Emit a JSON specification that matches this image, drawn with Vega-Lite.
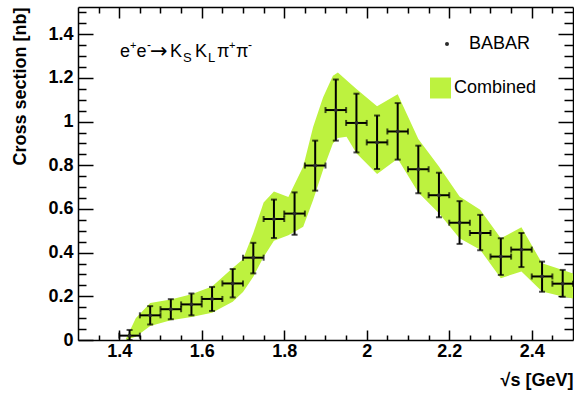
{
  "$schema": "https://vega.github.io/schema/vega-lite/v6.json",
  "width": 495,
  "height": 333,
  "autosize": {"type": "none"},
  "padding": {"left": 78, "top": 7, "right": 1, "bottom": 54},
  "background": "white",
  "config": {
    "view": {"stroke": null},
    "font": "Liberation Sans",
    "axis": {
      "grid": false,
      "domainColor": "black",
      "domainWidth": 1.5,
      "tickColor": "black",
      "tickWidth": 1.5,
      "labelFont": "Liberation Sans",
      "labelFontSize": 18,
      "labelFontWeight": "bold",
      "labelColor": "black",
      "titleFont": "Liberation Sans",
      "titleFontSize": 18,
      "titleFontWeight": "bold",
      "titleColor": "black",
      "labelOverlap": false,
      "labelFlush": false
    }
  },
  "datasets": {
    "babar": [
      {"x": 1.425, "xlo": 1.40, "xhi": 1.45, "y": 0.020, "ylo": 0.000, "yhi": 0.046},
      {"x": 1.475, "xlo": 1.45, "xhi": 1.50, "y": 0.113, "ylo": 0.071, "yhi": 0.155},
      {"x": 1.525, "xlo": 1.50, "xhi": 1.55, "y": 0.141, "ylo": 0.095, "yhi": 0.187},
      {"x": 1.575, "xlo": 1.55, "xhi": 1.60, "y": 0.163, "ylo": 0.113, "yhi": 0.213},
      {"x": 1.625, "xlo": 1.60, "xhi": 1.65, "y": 0.188, "ylo": 0.133, "yhi": 0.243},
      {"x": 1.675, "xlo": 1.65, "xhi": 1.70, "y": 0.259, "ylo": 0.195, "yhi": 0.325},
      {"x": 1.725, "xlo": 1.70, "xhi": 1.75, "y": 0.377, "ylo": 0.305, "yhi": 0.445},
      {"x": 1.775, "xlo": 1.75, "xhi": 1.80, "y": 0.554, "ylo": 0.467, "yhi": 0.643},
      {"x": 1.825, "xlo": 1.80, "xhi": 1.85, "y": 0.579, "ylo": 0.482, "yhi": 0.676},
      {"x": 1.875, "xlo": 1.85, "xhi": 1.90, "y": 0.799, "ylo": 0.684, "yhi": 0.913},
      {"x": 1.925, "xlo": 1.90, "xhi": 1.95, "y": 1.053, "ylo": 0.913, "yhi": 1.193},
      {"x": 1.975, "xlo": 1.95, "xhi": 2.00, "y": 0.994, "ylo": 0.859, "yhi": 1.128},
      {"x": 2.025, "xlo": 2.00, "xhi": 2.05, "y": 0.905, "ylo": 0.783, "yhi": 1.028},
      {"x": 2.075, "xlo": 2.05, "xhi": 2.10, "y": 0.955, "ylo": 0.826, "yhi": 1.085},
      {"x": 2.125, "xlo": 2.10, "xhi": 2.15, "y": 0.782, "ylo": 0.672, "yhi": 0.890},
      {"x": 2.175, "xlo": 2.15, "xhi": 2.20, "y": 0.663, "ylo": 0.562, "yhi": 0.766},
      {"x": 2.225, "xlo": 2.20, "xhi": 2.25, "y": 0.537, "ylo": 0.440, "yhi": 0.636},
      {"x": 2.275, "xlo": 2.25, "xhi": 2.30, "y": 0.490, "ylo": 0.411, "yhi": 0.573},
      {"x": 2.325, "xlo": 2.30, "xhi": 2.35, "y": 0.382, "ylo": 0.298, "yhi": 0.466},
      {"x": 2.375, "xlo": 2.35, "xhi": 2.40, "y": 0.414, "ylo": 0.334, "yhi": 0.490},
      {"x": 2.425, "xlo": 2.40, "xhi": 2.45, "y": 0.291, "ylo": 0.221, "yhi": 0.359},
      {"x": 2.475, "xlo": 2.45, "xhi": 2.50, "y": 0.258, "ylo": 0.198, "yhi": 0.321}
    ],
    "band": [
      {"x": 1.415, "lo": 0.000, "hi": 0.000},
      {"x": 1.440, "lo": 0.015, "hi": 0.100},
      {"x": 1.475, "lo": 0.064, "hi": 0.170},
      {"x": 1.525, "lo": 0.090, "hi": 0.185},
      {"x": 1.575, "lo": 0.105, "hi": 0.210},
      {"x": 1.625, "lo": 0.125, "hi": 0.245},
      {"x": 1.675, "lo": 0.175, "hi": 0.330},
      {"x": 1.700, "lo": 0.220, "hi": 0.370},
      {"x": 1.725, "lo": 0.290, "hi": 0.490},
      {"x": 1.750, "lo": 0.380, "hi": 0.630},
      {"x": 1.775, "lo": 0.455, "hi": 0.680},
      {"x": 1.810, "lo": 0.480, "hi": 0.655},
      {"x": 1.846, "lo": 0.519, "hi": 0.794},
      {"x": 1.870, "lo": 0.641, "hi": 0.976},
      {"x": 1.894, "lo": 0.778, "hi": 1.110},
      {"x": 1.918, "lo": 0.900, "hi": 1.210},
      {"x": 1.930, "lo": 0.925, "hi": 1.225},
      {"x": 1.951, "lo": 0.931, "hi": 1.190},
      {"x": 1.975, "lo": 0.855, "hi": 1.150},
      {"x": 2.025, "lo": 0.760, "hi": 1.070},
      {"x": 2.075, "lo": 0.830, "hi": 1.125},
      {"x": 2.125, "lo": 0.675, "hi": 0.920},
      {"x": 2.175, "lo": 0.580, "hi": 0.795},
      {"x": 2.225, "lo": 0.466, "hi": 0.657},
      {"x": 2.275, "lo": 0.413, "hi": 0.596},
      {"x": 2.325, "lo": 0.283, "hi": 0.466},
      {"x": 2.375, "lo": 0.314, "hi": 0.516},
      {"x": 2.425, "lo": 0.222, "hi": 0.351},
      {"x": 2.475, "lo": 0.199, "hi": 0.321},
      {"x": 2.500, "lo": 0.190, "hi": 0.305}
    ],
    "anno": [{"x": 1.4018, "y": 1.296}]
  },
  "layer": [
    {
      "data": {"name": "band"},
      "mark": {"type": "area", "opacity": 1},
      "encoding": {
        "x": {
          "field": "x", "type": "quantitative",
          "scale": {"domain": [1.3, 2.5], "nice": false, "zero": false},
          "axis": {
            "orient": "bottom",
            "values": [1.35,1.4,1.45,1.5,1.55,1.6,1.65,1.7,1.75,1.8,1.85,1.9,1.95,2.0,2.05,2.1,2.15,2.2,2.25,2.3,2.35,2.4,2.45],
            "labelExpr": "abs(datum.value*5-round(datum.value*5))<0.01 ? format(datum.value,'~g') : ''",
            "tickSize": {"condition": {"test": "abs(datum.value*5-round(datum.value*5))<0.01", "value": -10}, "value": -5},
            "labelPadding": 12,
            "title": "√s   [GeV]",
            "titleX": 495,
            "titleY": 45,
            "titleAlign": "right",
            "titleBaseline": "alphabetic"
          }
        },
        "y": {
          "field": "lo", "type": "quantitative",
          "scale": {"domain": [0, 1.525], "nice": false, "zero": false},
          "axis": {
            "orient": "left",
            "values": [0,0.05,0.1,0.15,0.2,0.25,0.3,0.35,0.4,0.45,0.5,0.55,0.6,0.65,0.7,0.75,0.8,0.85,0.9,0.95,1.0,1.05,1.1,1.15,1.2,1.25,1.3,1.35,1.4,1.45,1.5],
            "labelExpr": "abs(datum.value*5-round(datum.value*5))<0.01 ? format(datum.value,'~g') : ''",
            "tickSize": {"condition": {"test": "abs(datum.value*5-round(datum.value*5))<0.01", "value": -15}, "value": -8},
            "labelPadding": 20,
            "title": "Cross section [nb]",
            "titleX": -57.5,
            "titleY": 0,
            "titleAngle": 270,
            "titleAlign": "right",
            "titleBaseline": "middle"
          }
        },
        "y2": {"field": "hi"},
        "fill": {
          "datum": "Combined", "type": "nominal",
          "scale": {"domain": ["Combined"], "range": ["#bdf23f"]},
          "legend": {
            "title": null,
            "orient": "none",
            "legendX": 352,
            "legendY": 70.5,
            "padding": 0,
            "symbolType": "square",
            "symbolSize": 440,
            "symbolStrokeWidth": 0,
            "symbolOpacity": 1,
            "labelFont": "Liberation Sans",
            "labelFontSize": 18,
            "labelColor": "black",
            "labelOffset": 3
          }
        }
      }
    },
    {
      "data": {"name": "babar"},
      "mark": {"type": "rule", "color": "black", "strokeWidth": 2},
      "encoding": {
        "x": {
          "field": "x", "type": "quantitative",
          "axis": {
            "orient": "top",
            "values": [1.35,1.4,1.45,1.5,1.55,1.6,1.65,1.7,1.75,1.8,1.85,1.9,1.95,2.0,2.05,2.1,2.15,2.2,2.25,2.3,2.35,2.4,2.45],
            "labels": false,
            "title": null,
            "tickSize": {"condition": {"test": "abs(datum.value*5-round(datum.value*5))<0.01", "value": -11}, "value": -6}
          }
        },
        "y": {
          "field": "ylo", "type": "quantitative",
          "axis": {
            "orient": "right",
            "values": [0.05,0.1,0.15,0.2,0.25,0.3,0.35,0.4,0.45,0.5,0.55,0.6,0.65,0.7,0.75,0.8,0.85,0.9,0.95,1.0,1.05,1.1,1.15,1.2,1.25,1.3,1.35,1.4,1.45,1.5],
            "labels": false,
            "title": null,
            "tickSize": {"condition": {"test": "abs(datum.value*5-round(datum.value*5))<0.01", "value": -15}, "value": -9}
          }
        },
        "y2": {"field": "yhi"}
      }
    },
    {
      "data": {"name": "babar"},
      "mark": {"type": "rule", "color": "black", "strokeWidth": 2},
      "encoding": {
        "x": {"field": "xlo", "type": "quantitative", "axis": null},
        "x2": {"field": "xhi"},
        "y": {"field": "y", "type": "quantitative", "axis": null}
      }
    },
    {
      "data": {"name": "babar"},
      "mark": {"type": "tick", "orient": "horizontal", "color": "black", "size": 6, "thickness": 2},
      "encoding": {
        "x": {"field": "x", "type": "quantitative", "axis": null},
        "y": {"field": "ylo", "type": "quantitative", "axis": null}
      }
    },
    {
      "data": {"name": "babar"},
      "mark": {"type": "tick", "orient": "horizontal", "color": "black", "size": 6, "thickness": 2},
      "encoding": {
        "x": {"field": "x", "type": "quantitative", "axis": null},
        "y": {"field": "yhi", "type": "quantitative", "axis": null}
      }
    },
    {
      "data": {"name": "babar"},
      "mark": {"type": "tick", "orient": "vertical", "color": "black", "size": 6, "thickness": 2},
      "encoding": {
        "x": {"field": "xlo", "type": "quantitative", "axis": null},
        "y": {"field": "y", "type": "quantitative", "axis": null}
      }
    },
    {
      "data": {"name": "babar"},
      "mark": {"type": "tick", "orient": "vertical", "color": "black", "size": 6, "thickness": 2},
      "encoding": {
        "x": {"field": "xhi", "type": "quantitative", "axis": null},
        "y": {"field": "y", "type": "quantitative", "axis": null}
      }
    },
    {
      "data": {"name": "babar"},
      "mark": {"type": "point", "filled": true, "size": 14, "opacity": 1, "shape": "circle"},
      "encoding": {
        "x": {"field": "x", "type": "quantitative", "axis": null},
        "y": {"field": "y", "type": "quantitative", "axis": null},
        "color": {
          "datum": "BABAR", "type": "nominal",
          "scale": {"domain": ["BABAR"], "range": ["#2b2b2b"]},
          "legend": {
            "title": null,
            "orient": "none",
            "legendX": 360,
            "legendY": 28,
            "padding": 0,
            "symbolType": "circle",
            "symbolSize": 16,
            "symbolOpacity": 1,
            "labelFont": "Liberation Sans",
            "labelFontSize": 18,
            "labelColor": "black",
            "labelOffset": 13
          }
        }
      }
    },
    {"data": {"name": "anno"}, "mark": {"type": "text", "text": "e", "align": "left", "baseline": "alphabetic", "fontSize": 18, "color": "black", "dx": 0},
     "encoding": {"x": {"field": "x", "type": "quantitative", "axis": null}, "y": {"field": "y", "type": "quantitative", "axis": null}}},
    {"data": {"name": "anno"}, "mark": {"type": "text", "text": "+", "align": "left", "baseline": "alphabetic", "fontSize": 11, "color": "black", "dx": 10, "dy": -8},
     "encoding": {"x": {"field": "x", "type": "quantitative", "axis": null}, "y": {"field": "y", "type": "quantitative", "axis": null}}},
    {"data": {"name": "anno"}, "mark": {"type": "text", "text": "e", "align": "left", "baseline": "alphabetic", "fontSize": 18, "color": "black", "dx": 16.5},
     "encoding": {"x": {"field": "x", "type": "quantitative", "axis": null}, "y": {"field": "y", "type": "quantitative", "axis": null}}},
    {"data": {"name": "anno"}, "mark": {"type": "text", "text": "-", "align": "left", "baseline": "alphabetic", "fontSize": 12, "color": "black", "dx": 27, "dy": -8},
     "encoding": {"x": {"field": "x", "type": "quantitative", "axis": null}, "y": {"field": "y", "type": "quantitative", "axis": null}}},
    {"data": {"name": "anno"}, "mark": {"type": "text", "text": "→", "font": "DejaVu Sans", "align": "left", "baseline": "alphabetic", "fontSize": 21, "color": "black", "dx": 30, "dy": 1},
     "encoding": {"x": {"field": "x", "type": "quantitative", "axis": null}, "y": {"field": "y", "type": "quantitative", "axis": null}}},
    {"data": {"name": "anno"}, "mark": {"type": "text", "text": "K", "align": "left", "baseline": "alphabetic", "fontSize": 18, "color": "black", "dx": 50},
     "encoding": {"x": {"field": "x", "type": "quantitative", "axis": null}, "y": {"field": "y", "type": "quantitative", "axis": null}}},
    {"data": {"name": "anno"}, "mark": {"type": "text", "text": "S", "align": "left", "baseline": "alphabetic", "fontSize": 13, "color": "black", "dx": 63, "dy": 5},
     "encoding": {"x": {"field": "x", "type": "quantitative", "axis": null}, "y": {"field": "y", "type": "quantitative", "axis": null}}},
    {"data": {"name": "anno"}, "mark": {"type": "text", "text": "K", "align": "left", "baseline": "alphabetic", "fontSize": 18, "color": "black", "dx": 75},
     "encoding": {"x": {"field": "x", "type": "quantitative", "axis": null}, "y": {"field": "y", "type": "quantitative", "axis": null}}},
    {"data": {"name": "anno"}, "mark": {"type": "text", "text": "L", "align": "left", "baseline": "alphabetic", "fontSize": 13, "color": "black", "dx": 88, "dy": 5},
     "encoding": {"x": {"field": "x", "type": "quantitative", "axis": null}, "y": {"field": "y", "type": "quantitative", "axis": null}}},
    {"data": {"name": "anno"}, "mark": {"type": "text", "text": "π", "align": "left", "baseline": "alphabetic", "fontSize": 18, "color": "black", "dx": 97},
     "encoding": {"x": {"field": "x", "type": "quantitative", "axis": null}, "y": {"field": "y", "type": "quantitative", "axis": null}}},
    {"data": {"name": "anno"}, "mark": {"type": "text", "text": "+", "align": "left", "baseline": "alphabetic", "fontSize": 11, "color": "black", "dx": 109, "dy": -8},
     "encoding": {"x": {"field": "x", "type": "quantitative", "axis": null}, "y": {"field": "y", "type": "quantitative", "axis": null}}},
    {"data": {"name": "anno"}, "mark": {"type": "text", "text": "π", "align": "left", "baseline": "alphabetic", "fontSize": 18, "color": "black", "dx": 116},
     "encoding": {"x": {"field": "x", "type": "quantitative", "axis": null}, "y": {"field": "y", "type": "quantitative", "axis": null}}},
    {"data": {"name": "anno"}, "mark": {"type": "text", "text": "-", "align": "left", "baseline": "alphabetic", "fontSize": 12, "color": "black", "dx": 128, "dy": -8},
     "encoding": {"x": {"field": "x", "type": "quantitative", "axis": null}, "y": {"field": "y", "type": "quantitative", "axis": null}}}
  ],
  "resolve": {"axis": {"x": "independent", "y": "independent"}}
}
